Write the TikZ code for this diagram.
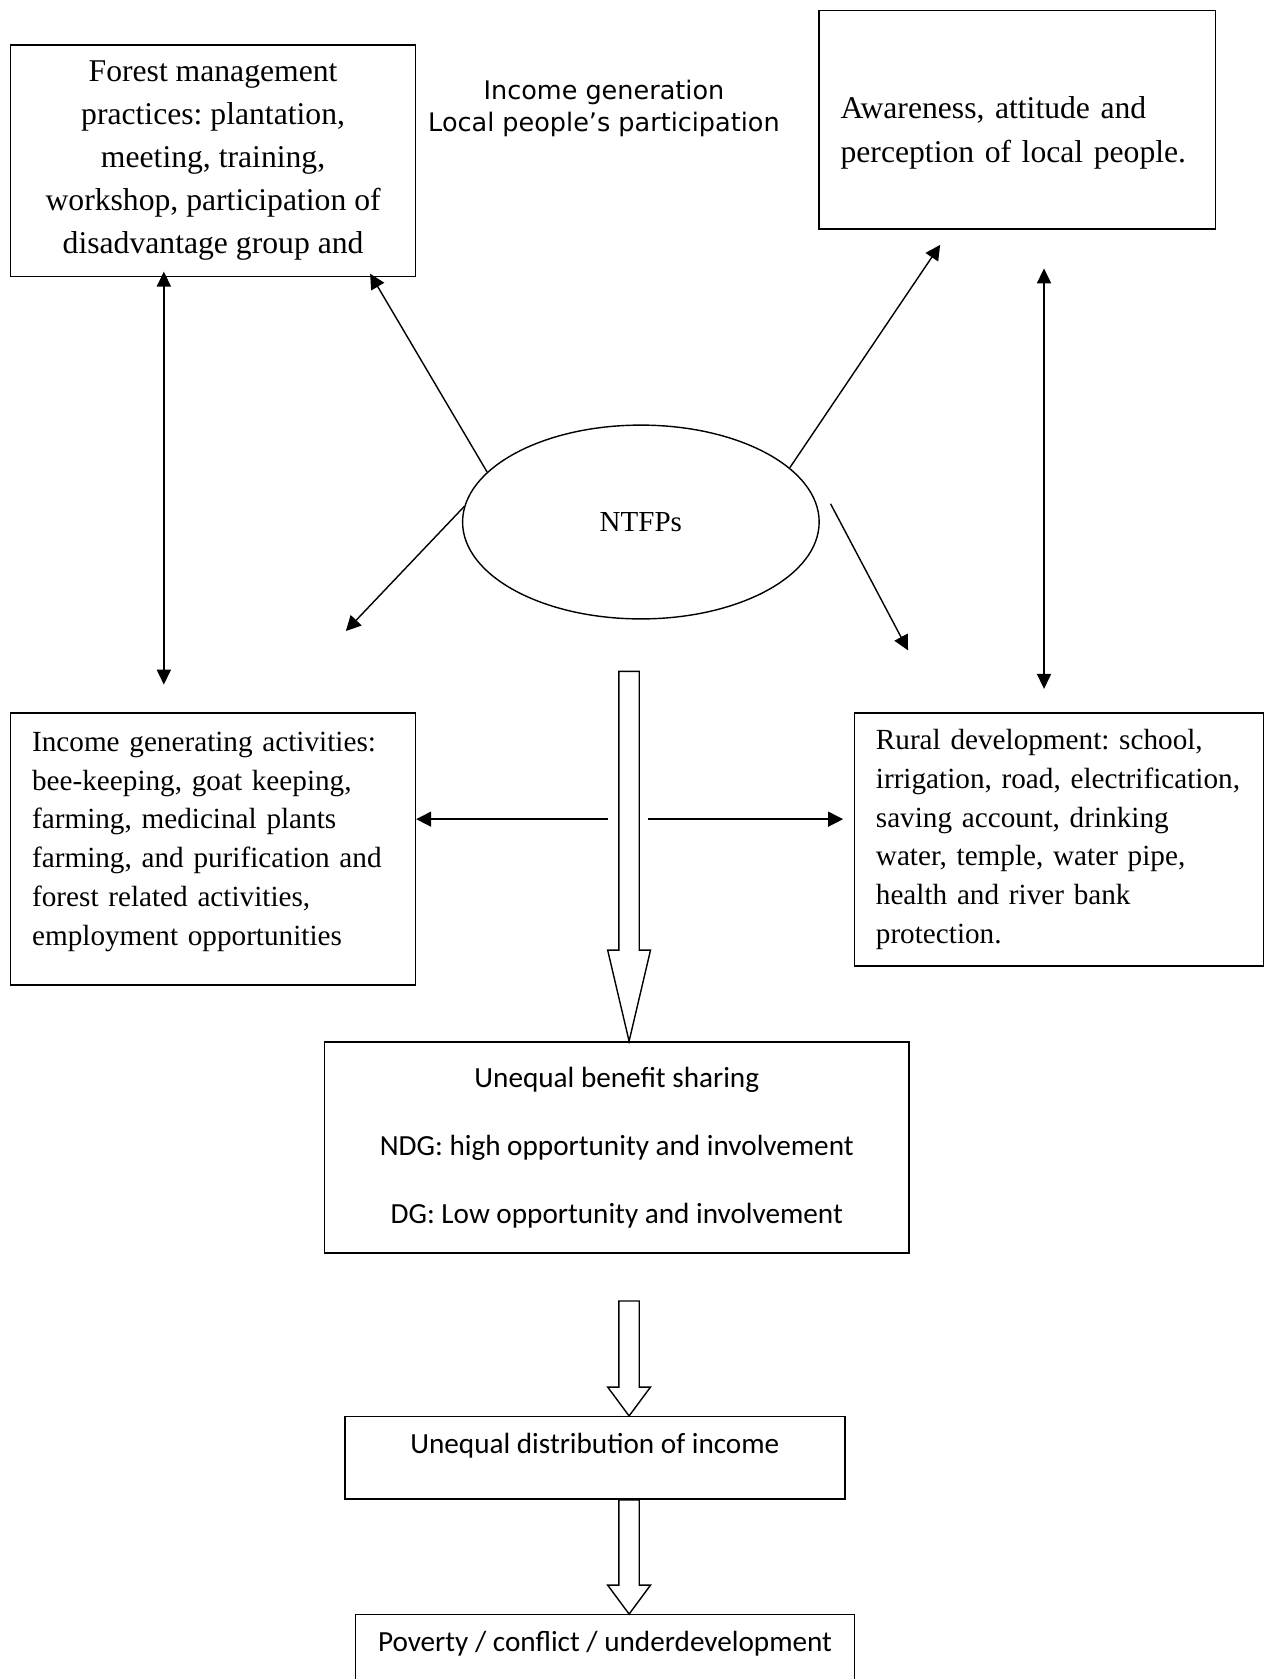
\documentclass[tikz,border=0pt]{standalone}
\usepackage{fontspec}
\setmainfont{Liberation Serif}
\newfontfamily\calibri{Carlito}
\newfontfamily\tahoma{DejaVu Sans}
\usepackage{tikz}
\usetikzlibrary{arrows.meta,shapes,positioning,calc}
\frenchspacing
\newcommand{\pxu}{0.0214cm}
\tikzstyle{arrow} = [line width=0.8pt,-{Triangle[length=8.5pt,width=8.5pt]}]
\tikzstyle{twoway} = [line width=0.8pt,{Triangle[length=8.5pt,width=8pt]}-{Triangle[length=8.5pt,width=8pt]}]
\tikzstyle{textbox} = [rectangle, draw, line width=0.8pt, inner sep=0pt]
\tikzstyle{hollow} = [line width=0.8pt, fill=white]
\newcommand{\hollowarrow}[3]{%
  \draw[hollow] ($(#1)+(-9.5,0)$) -- ($(#2)+(-9.5,-#3)$) -- ($(#2)+(-20,-#3)$) -- (#2)
    -- ($(#2)+(20,-#3)$) -- ($(#2)+(9.5,-#3)$) -- ($(#1)+(9.5,0)$) -- cycle;}

\begin{document}
\begin{tikzpicture}[x=\pxu, y=-\pxu]
\useasboundingbox (0,0) rectangle (1184,1568);

% Top row
\node[textbox, minimum width=378*\pxu, minimum height=216*\pxu, align=center,
  font=\fontsize{18}{24.4}\selectfont] (fm) at (199,150) {Forest management\\practices: plantation,\\meeting, training,\\workshop, participation of\\disadvantage group and};
\node[textbox, minimum width=370*\pxu, minimum height=204*\pxu, text width=330*\pxu, align=left,
  text height=27.5pt, font=\fontsize{18}{25}\selectfont] (aw) at (950,112) {Awareness, attitude and\\perception of local people.};
\node[align=center, font=\tahoma\fontsize{14.5}{18.3}\selectfont] (gain) at (564,101) {Income generation\\Local people’s participation};

% NTFPs
\node[draw, ellipse, line width=0.8pt, minimum width=333*\pxu, minimum height=181*\pxu, inner sep=0pt,
  font=\fontsize{16.5}{20}\selectfont] (ntfp) at (598.5,487.5) {NTFPs};

% Middle row
\node[textbox, minimum width=378*\pxu, minimum height=254*\pxu, text width=338*\pxu, align=left,
  text depth=122pt, font=\fontsize{16.6}{22}\selectfont] (ig) at (199,793) {Income generating activities:\\bee-keeping, goat keeping,\\farming, medicinal plants\\farming, and purification and\\forest related activities,\\employment opportunities};
\node[textbox, minimum width=382*\pxu, minimum height=236*\pxu, text width=342*\pxu, align=left,
  font=\fontsize{16.6}{22}\selectfont] (rd) at (989,784) {Rural development: school,\\irrigation, road, electrification,\\saving account, drinking\\water, temple, water pipe,\\health and river bank\\protection.};

% Outcomes
\node[textbox, minimum width=546*\pxu, minimum height=197*\pxu, align=center,
  font=\calibri\fontsize{16.6}{38.7}\selectfont] (ub) at (576,1071.5) {Unequal benefit sharing\\NDG: high opportunity and involvement\\DG: Low opportunity and involvement};
\node[textbox, minimum width=467*\pxu, minimum height=77*\pxu, text height=12pt, text depth=17pt,
  font=\calibri\fontsize{16.6}{20}\selectfont] (ud) at (555.5,1361.5) {Unequal distribution of income};
\node[textbox, minimum width=466*\pxu, minimum height=77*\pxu, text height=12pt, text depth=17pt,
  font=\calibri\fontsize{16.6}{20}\selectfont] (pc) at (565,1546.5) {Poverty / conflict / underdevelopment};

% Free ends
\coordinate (igtip) at ([shift={(-46,-26)}]ig.north);
\coordinate (awtip) at ([shift={(25,36)}]aw.south);
\coordinate (rdtip) at ([shift={(-14,-22)}]rd.north);
\coordinate (awin) at ([shift={(-72,14)}]aw.south);
\coordinate (igin) at ([shift={(124,-76)}]ig.north);
\coordinate (rdout) at ([shift={(10,-17)}]ntfp.east);
\coordinate (rdin) at ([shift={(-141,-58)}]rd.north);
\coordinate (flow) at (587.5,627);
\coordinate (split) at (587.5,765);
\coordinate (splitl) at ([shift={(-19.5,0)}]split);
\coordinate (splitr) at ([shift={(17.5,0)}]split);
\coordinate (rdside) at (splitr -| rd.west);

% Two-way links
\draw[twoway] ([shift={(-46,-5)}]fm.south) -- (igtip);
\draw[twoway] (awtip) -- (rdtip);

% From NTFPs
\draw[arrow] (ntfp.162) -- ([shift={(-43,-3)}]fm.south east);
\draw[arrow] (ntfp.20) -- (awin);
\draw[arrow] (ntfp.175) -- (igin);
\draw[arrow] (rdout) -- (rdin);
\draw[arrow] (splitl) -- (splitl -| ig.east);
\draw[arrow] (splitr) -- ([shift={(-10,0)}]rdside);

% Block arrows
\coordinate (ubtop) at (flow |- ub.north);
\hollowarrow{flow}{ubtop}{85}
\coordinate (udstart) at (587.5,1215);
\coordinate (udtop) at (udstart |- ud.north);
\hollowarrow{udstart}{udtop}{27}
\coordinate (udbot) at (flow |- ud.south);
\coordinate (pctop) at (flow |- pc.north);
\hollowarrow{udbot}{pctop}{27}
\end{tikzpicture}
\end{document}
